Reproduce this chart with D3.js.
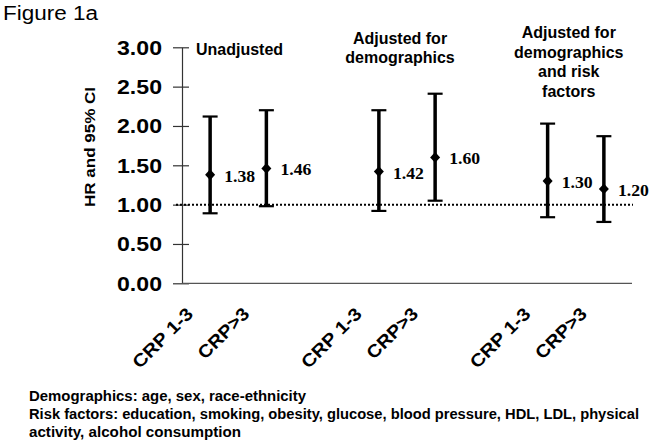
<!DOCTYPE html>
<html><head><meta charset="utf-8">
<script src="https://cdn.jsdelivr.net/npm/d3@7"></script>
<style>body{margin:0;background:#fff}svg{display:block}</style>
</head><body>
<svg id="c" width="652" height="445"></svg>
<script>
const groups = [["Unadjusted"], ["Adjusted for", "demographics"], ["Adjusted for", "demographics", "and risk", "factors"]];
const categories = ["CRP 1-3", "CRP>3"];
const hr    = [1.38, 1.46, 1.42, 1.60, 1.30, 1.20];
const lower = [0.89, 0.98, 0.92, 1.05, 0.84, 0.78];
const upper = [2.12, 2.20, 2.20, 2.41, 2.03, 1.87];
const yTicks = [0, 0.5, 1, 1.5, 2, 2.5, 3];
const refValue = 1;
const yTitle = "HR and 95% CI";
const figTitle = "Figure 1a";
const notes = ["Demographics: age, sex, race-ethnicity",
  "Risk factors: education, smoking, obesity, glucose, blood pressure, HDL, LDL, physical",
  "activity, alcohol consumption"];

const svg = d3.select("#c");
const sans = "Arial, 'Liberation Sans', Helvetica, sans-serif";
const serif = "'Times New Roman', 'Liberation Serif', serif";

// build domain keys: categories per group with a spacer between groups
const keys = [], points = [];
groups.forEach((g, gi) => {
  categories.forEach((c, ci) => { keys.push(gi + "|" + c); points.push({g: gi, cat: c, i: gi * categories.length + ci}); });
  if (gi < groups.length - 1) keys.push("gap" + gi);
});
const x = d3.scaleBand().domain(keys).range([182, 632]);
const cx = k => x(k) + x.bandwidth() / 2;
const y = d3.scaleLinear().domain([0, 3]).range([283.3, 47.3]);

// title
svg.append("text").attr("x", 3).attr("y", 20).attr("font-family", sans).attr("font-size", 20)
  .attr("textLength", 95).attr("lengthAdjust", "spacingAndGlyphs").text(figTitle);

// y axis
const yAxis = d3.axisLeft(y).tickValues(yTicks).tickFormat(d3.format(".2f")).tickSize(0).tickPadding(20);
const gy = svg.append("g").attr("transform", "translate(182,0)").call(yAxis);
gy.select(".domain").attr("stroke", "#333").attr("stroke-width", 1.2);
gy.selectAll(".tick text").attr("font-family", sans).attr("font-size", 21).attr("font-weight", "bold")
  .attr("fill", "#000").attr("textLength", 45).attr("lengthAdjust", "spacingAndGlyphs");
gy.selectAll(".tick").append("line").attr("x1", -9).attr("x2", 7).attr("stroke", "#333").attr("stroke-width", 1.2);

// x axis line
svg.append("line").attr("x1", 182).attr("x2", 632).attr("y1", y(0)).attr("y2", y(0))
  .attr("stroke", "#555").attr("stroke-width", 1.2);

// reference line
svg.append("line").attr("x1", 176).attr("x2", 633).attr("y1", y(refValue)).attr("y2", y(refValue))
  .attr("stroke", "#000").attr("stroke-width", 2).attr("stroke-dasharray", "2,2");

// y title
svg.append("text").attr("transform", `translate(95,147) rotate(-90)`).attr("text-anchor", "middle")
  .attr("font-family", sans).attr("font-size", 15).attr("font-weight", "bold")
  .attr("textLength", 120).attr("lengthAdjust", "spacingAndGlyphs").text(yTitle);

// error bars
const pts = svg.append("g").selectAll("g").data(points).join("g")
  .attr("transform", d => `translate(${cx(d.g + "|" + d.cat)},0)`);
pts.append("line").attr("y1", d => y(lower[d.i])).attr("y2", d => y(upper[d.i]))
  .attr("stroke", "#000").attr("stroke-width", 3.5);
pts.append("line").attr("x1", -7.5).attr("x2", 7.5).attr("y1", d => y(upper[d.i])).attr("y2", d => y(upper[d.i]))
  .attr("stroke", "#000").attr("stroke-width", 2.2);
pts.append("line").attr("x1", -7.5).attr("x2", 7.5).attr("y1", d => y(lower[d.i])).attr("y2", d => y(lower[d.i]))
  .attr("stroke", "#000").attr("stroke-width", 2.2);
pts.append("path").attr("d", d3.symbol(d3.symbolDiamond2, 64))
  .attr("transform", d => `translate(0,${y(hr[d.i])}) scale(1,1.08)`).attr("fill", "#000");
pts.append("text").attr("x", 14).attr("y", d => y(hr[d.i]) + 7)
  .attr("font-family", serif).attr("font-size", 16.5).attr("font-weight", "bold")
  .attr("textLength", 31).attr("lengthAdjust", "spacingAndGlyphs")
  .text(d => d3.format(".2f")(hr[d.i]));

// x labels
pts.append("text").attr("text-anchor", "end")
  .attr("transform", "translate(-16,315) rotate(-45)")
  .attr("font-family", sans).attr("font-size", 18).attr("font-weight", "bold")
  .attr("textLength", d => d.cat === "CRP>3" ? 64 : 77).attr("lengthAdjust", "spacingAndGlyphs")
  .text(d => d.cat);

// group titles
const gBase = [[55], [44, 63], [38, 58, 77, 97]];
groups.forEach((lines, gi) => {
  const k0 = gi + "|" + categories[0], k1 = gi + "|" + categories[1];
  const center = (cx(k0) + cx(k1)) / 2 - 7;
  const t = svg.append("text").attr("font-family", sans).attr("font-size", 16).attr("font-weight", "bold")
    .attr("text-anchor", gi === 0 ? "start" : "middle");
  lines.forEach((ln, li) => {
    t.append("tspan").attr("x", gi === 0 ? x(k0) + 14 : center).attr("y", gBase[gi][li]).text(ln);
  });
});

// footnotes
const noteLen = [277, 610, 212];
const noteY = [401, 419, 437];
notes.forEach((n, i) => {
  svg.append("text").attr("x", 29).attr("y", noteY[i]).attr("font-family", sans).attr("font-size", 14.5)
    .attr("font-weight", "bold").attr("textLength", noteLen[i]).attr("lengthAdjust", "spacingAndGlyphs").text(n);
});
</script>
</body></html>
